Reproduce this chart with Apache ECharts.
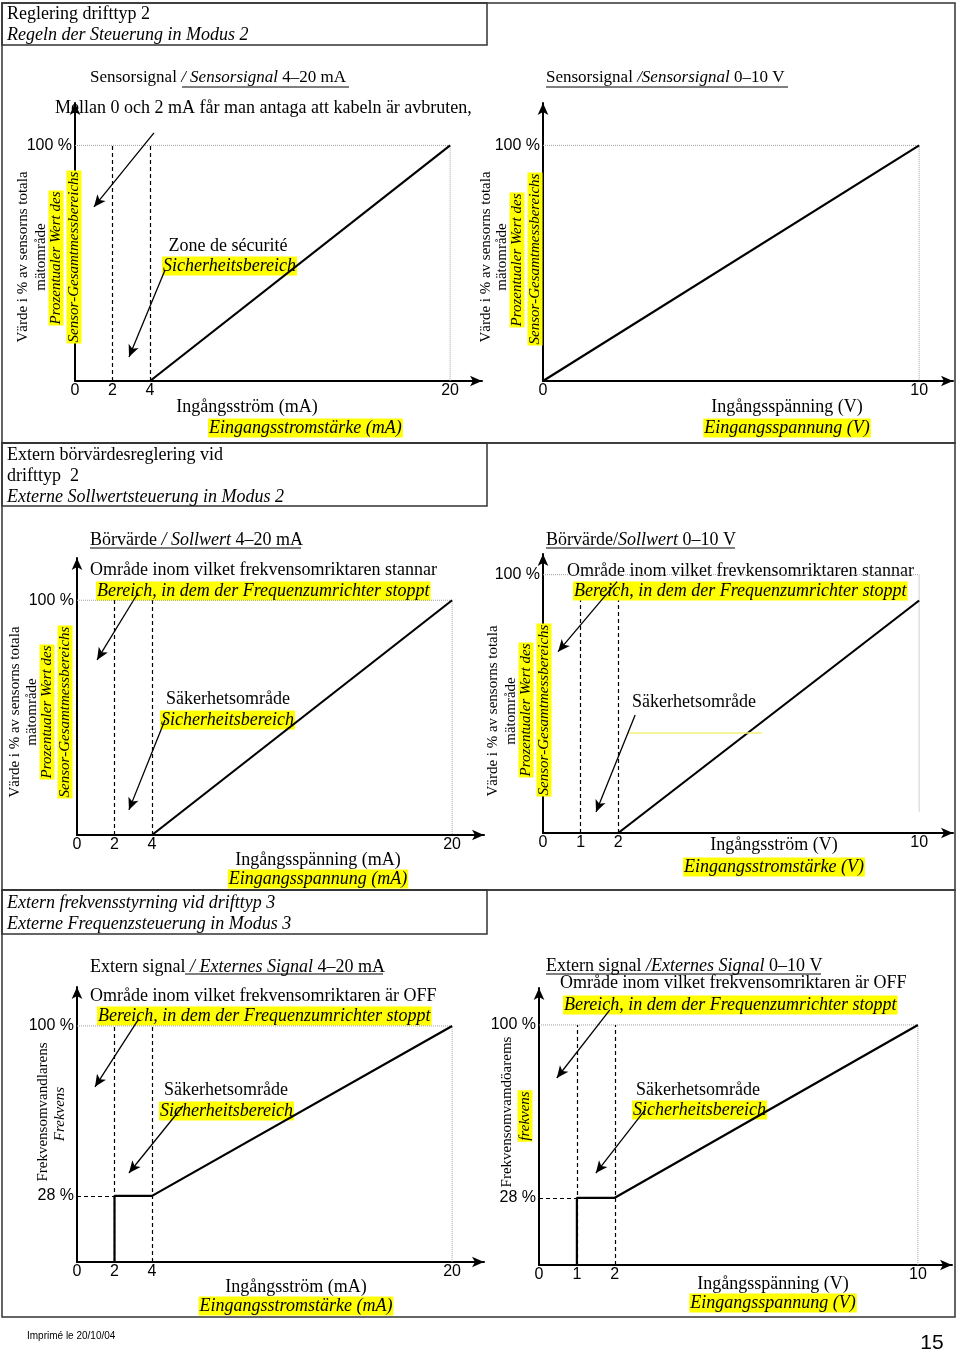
<!DOCTYPE html>
<html><head><meta charset="utf-8">
<script src="https://cdn.jsdelivr.net/npm/echarts@6/dist/echarts.min.js"></script>
<style>html,body{margin:0;padding:0;background:#fff}#c{width:960px;height:1354px}</style>
</head><body><div id="c"></div>
<script>
// ---------------- data ----------------
// Chart 1: Sensorsignal 4–20 mA
const c1XTicks = [0, 2, 4, 20];
const c1YTicks = [100];
const c1Line = [[4, 0], [20, 100]];
const c1Dashed = [2, 4];
const c1DashTop = 100;
const c1Guide = [[0, 100], [20, 100], [20, 0]];
const c1Arrows = [[4.21, 105.3, 1.01, 73.9], [4.80, 47.1, 2.88, 10.2]];

// Chart 2: Sensorsignal 0–10 V
const c2XTicks = [0, 10];
const c2YTicks = [100];
const c2Line = [[0, 0], [10, 100]];
const c2Dashed = [];
const c2DashTop = 100;
const c2Guide = [[0, 100], [10, 100], [10, 0]];
const c2Arrows = [];

// Chart 3: Börvärde 4–20 mA
const c3XTicks = [0, 2, 4, 20];
const c3YTicks = [100];
const c3Line = [[4, 0], [20, 100]];
const c3Dashed = [2, 4];
const c3DashTop = 100;
const c3Guide = [[0, 100], [20, 100], [20, 0]];
const c3Arrows = [[3.25, 103.1, 1.07, 74.6], [4.69, 49.0, 2.77, 10.7]];

// Chart 4: Börvärde 0–10 V
const c4XTicks = [0, 1, 2, 10];
const c4YTicks = [100];
const c4Line = [[2, 0], [10, 90]];
const c4Dashed = [1, 2];
const c4DashTop = 90;
const c4Guide = [[0, 100], [10, 100], [10, 8]];
const c4Arrows = [[1.97, 97.3, 0.40, 70.2], [2.45, 45.7, 1.41, 8.1]];
const c4Stub = [2.26, 38.7, 5.82, 38.7];

// Chart 5: Extern signal 4–20 mA
const c5XTicks = [0, 2, 4, 20];
const c5YTicks = [28, 100];
const c5Line = [[2, 0], [2, 28], [4, 28], [20, 100]];
const c5Dashed = [2, 4];
const c5DashTop = 100;
const c5Floor = [[0, 28], [2, 28]];
const c5Guide = [[0, 100], [20, 100], [20, 0]];
const c5Arrows = [[3.25, 102.5, 0.96, 74.2], [5.65, 66.1, 2.77, 37.7]];

// Chart 6: Extern signal 0–10 V
const c6XTicks = [0, 1, 2, 10];
const c6YTicks = [28, 100];
const c6Line = [[1, 0], [1, 28], [2, 28], [10, 100]];
const c6Dashed = [1, 2];
const c6DashTop = 100;
const c6Floor = [[0, 28], [1, 28]];
const c6Guide = [[0, 100], [10, 100], [10, 0]];
const c6Arrows = [[1.87, 106.3, 0.47, 77.9], [2.80, 64.6, 1.50, 38.3]];

// ---------------- layout ----------------
const SERIF = '"Liberation Serif", "Times New Roman", serif';
const SANS = '"Liberation Sans", Arial, sans-serif';

const charts = [
  {x: c1XTicks, y: c1YTicks, line: c1Line, dashed: c1Dashed, dashTop: c1DashTop, guide: c1Guide, arrows: c1Arrows},
  {x: c2XTicks, y: c2YTicks, line: c2Line, dashed: c2Dashed, dashTop: c2DashTop, guide: c2Guide, arrows: c2Arrows},
  {x: c3XTicks, y: c3YTicks, line: c3Line, dashed: c3Dashed, dashTop: c3DashTop, guide: c3Guide, arrows: c3Arrows},
  {x: c4XTicks, y: c4YTicks, line: c4Line, dashed: c4Dashed, dashTop: c4DashTop, guide: c4Guide, arrows: c4Arrows, stub: c4Stub},
  {x: c5XTicks, y: c5YTicks, line: c5Line, dashed: c5Dashed, dashTop: c5DashTop, guide: c5Guide, arrows: c5Arrows, floor: c5Floor},
  {x: c6XTicks, y: c6YTicks, line: c6Line, dashed: c6Dashed, dashTop: c6DashTop, guide: c6Guide, arrows: c6Arrows, floor: c6Floor}
];
const layout = [
  {grid: {left: 75, top: 103, width: 407, height: 278}, xMax: 21.7, yMax: 118},
  {grid: {left: 543, top: 103, width: 410, height: 278}, xMax: 10.9, yMax: 118},
  {grid: {left: 77, top: 558, width: 407, height: 277}, xMax: 21.7, yMax: 118},
  {grid: {left: 543, top: 554, width: 410, height: 279}, xMax: 10.9, yMax: 108},
  {grid: {left: 77, top: 987, width: 407, height: 275}, xMax: 21.7, yMax: 116.5},
  {grid: {left: 539, top: 988, width: 413, height: 277}, xMax: 10.9, yMax: 115.4}
];

const option = {animation: false, backgroundColor: '#fff', grid: [], xAxis: [], yAxis: [], series: []};

charts.forEach((c, i) => {
  const L = layout[i];
  option.grid.push(Object.assign({containLabel: false, outerBoundsMode: 'none'}, L.grid));
  const axisLine = {show: true, onZero: false, lineStyle: {color: '#000', width: 2}, symbol: ['none', 'arrow'], symbolSize: [8, 12]};
  option.xAxis.push({
    type: 'value', gridIndex: i, min: 0, max: L.xMax,
    splitLine: {show: false}, axisTick: {show: false}, axisLine: axisLine,
    axisLabel: {customValues: c.x, margin: 2, color: '#000', fontFamily: SANS, fontSize: 16}
  });
  option.yAxis.push({
    type: 'value', gridIndex: i, min: 0, max: L.yMax,
    splitLine: {show: false}, axisTick: {show: false}, axisLine: axisLine,
    axisLabel: {customValues: c.y, margin: 3, color: '#000', fontFamily: SANS, fontSize: 16, formatter: v => v + ' %'}
  });
  const guideMarks = c.dashed.map(d => [{coord: [d, 0]}, {coord: [d, c.dashTop]}]);
  if (c.floor) guideMarks.push([{coord: c.floor[0]}, {coord: c.floor[1]}]);
  if (c.stub) guideMarks.push([{coord: [c.stub[0], c.stub[1]], lineStyle: {color: '#f4f27a', type: 'solid', width: 1.5}}, {coord: [c.stub[2], c.stub[3]]}]);
  option.series.push({
    type: 'line', xAxisIndex: i, yAxisIndex: i, data: c.guide, symbol: 'none', silent: true, z: 1,
    lineStyle: {color: '#a0a0a0', width: 1, type: 'dotted'},
    markLine: {silent: true, symbol: ['none', 'none'], label: {show: false}, animation: false,
      lineStyle: {color: '#000', width: 1.2, type: [4, 3]}, data: guideMarks}
  });
  option.series.push({
    type: 'line', xAxisIndex: i, yAxisIndex: i, data: c.line, symbol: 'none', silent: true, z: 3,
    lineStyle: {color: '#000', width: 2.2},
    markLine: {silent: true, symbol: ['none', 'arrow'], symbolSize: [8, 12], label: {show: false}, animation: false,
      lineStyle: {color: '#000', width: 1.3, type: 'solid'},
      data: c.arrows.map(a => [{coord: [a[0], a[1]]}, {coord: [a[2], a[3]]}])}
  });
});

// ---------------- text / frames ----------------
function txt(x, y, s, o) {
  return {type: 'text', x: x, y: y, z: 1, silent: true,
    style: Object.assign({text: s, fill: '#000', fontFamily: SERIF, fontSize: 18, align: 'left', verticalAlign: 'middle'}, o || {})};
}
function hl(x, y, s, o) {
  return txt(x, y, s, Object.assign({fontStyle: 'italic', backgroundColor: '#ffff00', padding: [1, 1, 0, 1]}, o || {}));
}
function vt(x, y, s, o) {
  const e = txt(x, y, s, Object.assign({fontSize: 15, align: 'center'}, o || {}));
  e.rotation = Math.PI / 2;
  return e;
}
function vh(x, y, s, o) {
  return vt(x, y, s, Object.assign({fontStyle: 'italic', backgroundColor: '#ffff00', padding: [0, 1, 0, 1]}, o || {}));
}
function rich(x, y, a, b, c, size) {
  const fs = size || 18;
  return txt(x, y, '{n|' + a + '}{i|' + b + '}{n|' + c + '}', {
    rich: {n: {fontFamily: SERIF, fontSize: fs, fill: '#000'}, i: {fontFamily: SERIF, fontSize: fs, fontStyle: 'italic', fill: '#000'}}
  });
}
function uline(x1, x2, y) {
  return {type: 'line', z: 1, silent: true, shape: {x1: x1, y1: y, x2: x2, y2: y}, style: {stroke: '#000', lineWidth: 1}};
}
function rect(x, y, w, h) {
  return {type: 'rect', z: 0, silent: true, shape: {x: x, y: y, width: w, height: h}, style: {fill: null, stroke: '#333', lineWidth: 1.5}};
}
const C = {align: 'center'};
const I = {fontStyle: 'italic'};

const els = [
  rect(2, 3, 953, 440), rect(2, 3, 485, 42),
  rect(2, 443, 953, 447), rect(2, 443, 485, 63),
  rect(2, 890, 953, 427), rect(2, 890, 485, 44),

  txt(7, 14, 'Reglering drifttyp 2'), txt(7, 35, 'Regeln der Steuerung in Modus 2', I),
  txt(7, 455, 'Extern börvärdesreglering vid'), txt(7, 476, 'drifttyp  2'),
  txt(7, 497, 'Externe Sollwertsteuerung in Modus 2', I),
  txt(7, 903, 'Extern frekvensstyrning vid drifttyp 3', I), txt(7, 924, 'Externe Frequenzsteuerung in Modus 3', I),

  // chart 1
  rich(90, 78, 'Sensorsignal ', '/ Sensorsignal', ' 4–20 mA', 17), uline(182, 349, 87),
  txt(55, 108, 'Mellan 0 och 2 mA får man antaga att kabeln är avbruten,'),
  txt(228, 246, 'Zone de sécurité', C), hl(162, 266, 'Sicherheitsbereich'),
  txt(247, 407, 'Ingångsström (mA)', C), hl(208, 428, 'Eingangsstromstärke (mA)'),
  vt(23, 257, 'Värde i % av sensorns totala'), vt(41, 257, 'mätområde'),
  vh(56, 258, 'Prozentualer Wert des'), vh(74, 257, 'Sensor-Gesamtmessbereichs'),

  // chart 2
  rich(546, 78, 'Sensorsignal ', '/Sensorsignal', ' 0–10 V', 17), uline(546, 788, 87),
  vt(486, 257, 'Värde i % av sensorns totala'), vt(502, 257, 'mätområde'),
  vh(517, 260, 'Prozentualer Wert des'), vh(535, 259, 'Sensor-Gesamtmessbereichs'),
  txt(787, 407, 'Ingångsspänning (V)', C), hl(787, 428, 'Eingangsspannung (V)', C),

  // chart 3
  rich(90, 540, 'Börvärde ', '/ Sollwert', ' 4–20 mA'), uline(90, 301, 548),
  txt(90, 570, 'Område inom vilket frekvensomriktaren stannar'),
  hl(96, 591, 'Bereich, in dem der Frequenzumrichter stoppt'),
  txt(228, 699, 'Säkerhetsområde', C), hl(160, 720, 'Sicherheitsbereich'),
  vt(15, 712, 'Värde i % av sensorns totala'), vt(32, 712, 'mätområde'),
  vh(47, 712, 'Prozentualer Wert des'), vh(65, 712, 'Sensor-Gesamtmessbereichs'),
  txt(318, 860, 'Ingångsspänning (mA)', C), hl(318, 879, 'Eingangsspannung (mA)', C),

  // chart 4
  rich(546, 540, 'Börvärde/', 'Sollwert', ' 0–10 V'), uline(546, 735, 548),
  txt(567, 571, 'Område inom vilket frevkensomriktaren stannar'),
  hl(573, 591, 'Bereich, in dem der Frequenzumrichter stoppt'),
  txt(694, 702, 'Säkerhetsområde', C),
  vt(493, 711, 'Värde i % av sensorns totala'), vt(511, 711, 'mätområde'),
  vh(526, 710, 'Prozentualer Wert des'), vh(544, 710, 'Sensor-Gesamtmessbereichs'),
  txt(774, 845, 'Ingångsström (V)', C), hl(774, 867, 'Eingangsstromstärke (V)', C),

  // chart 5
  rich(90, 967, 'Extern signal ', '/ Externes Signal', ' 4–20 mA'), uline(185, 383, 974),
  txt(90, 996, 'Område inom vilket frekvensomriktaren är OFF'),
  hl(97, 1016, 'Bereich, in dem der Frequenzumrichter stoppt'),
  txt(226, 1090, 'Säkerhetsområde', C), hl(159, 1111, 'Sicherheitsbereich'),
  vt(43, 1112, 'Frekvensomvandlarens'), vt(60, 1114, 'Frekvens', I),
  txt(296, 1287, 'Ingångsström (mA)', C), hl(296, 1306, 'Eingangsstromstärke (mA)', C),

  // chart 6
  rich(546, 966, 'Extern signal ', '/Externes Signal', ' 0–10 V'), uline(546, 821, 974),
  txt(560, 983, 'Område inom vilket frekvensomriktaren är OFF'),
  hl(563, 1005, 'Bereich, in dem der Frequenzumrichter stoppt'),
  txt(698, 1090, 'Säkerhetsområde', C), hl(632, 1110, 'Sicherheitsbereich'),
  vt(507, 1112, 'Frekvensomvamdöarems'), vh(525, 1116, 'frekvens'),
  txt(773, 1284, 'Ingångsspänning (V)', C), hl(773, 1303, 'Eingangsspannung (V)', C),

  // footer
  txt(27, 1336, 'Imprimé le 20/10/04', {fontFamily: SANS, fontSize: 10}),
  txt(932, 1343, '15', {fontFamily: SANS, fontSize: 21, align: 'center'})
];
option.graphic = {elements: els};

const chart = echarts.init(document.getElementById('c'), null, {renderer: 'canvas'});
chart.setOption(option);
</script></body></html>
